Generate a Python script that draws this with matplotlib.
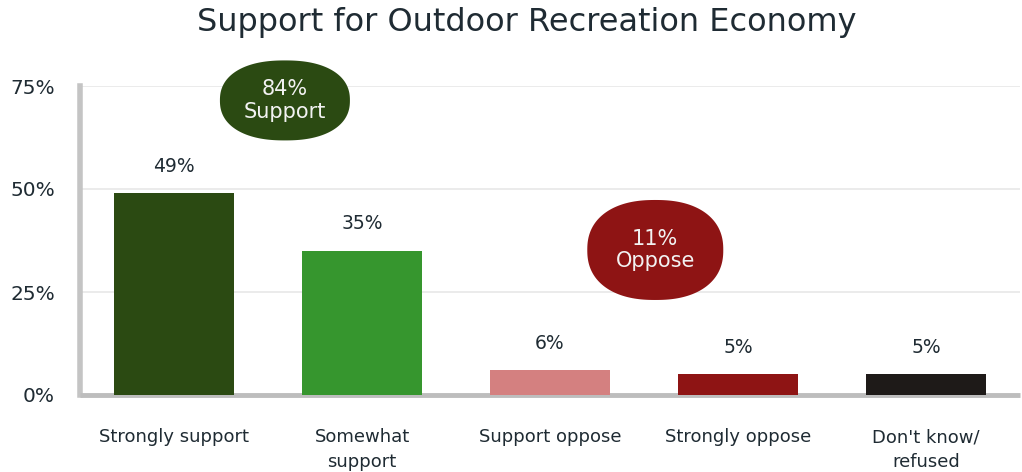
import numpy as np
import matplotlib
matplotlib.use("Agg")
import matplotlib.pyplot as plt
from matplotlib.patches import Polygon
from matplotlib.transforms import IdentityTransform

categories = ["Strongly support", "Somewhat\nsupport", "Support oppose",
              "Strongly oppose", "Don't know/\nrefused"]
values = [49, 35, 6, 5, 5]
colors = ["#2b4a12", "#36962e", "#d48080", "#8e1414", "#1e1a18"]
yticks = [0, 25, 50, 75]

# summary bubbles: label, centre (x in category units, y in %), colour
bubble_labels = ["84%\nSupport", "11%\nOppose"]
bubble_pos = [(0.59, 71.5), (2.56, 35.2)]
bubble_colors = ["#2b4a12", "#8e1414"]
bubble_size = [(130, 80), (136, 100)]  # pixels

text_col = "#1f2b33"
plt.rcParams["font.family"] = ["DejaVu Sans"]

fig = plt.figure(figsize=(10.22, 4.72), dpi=100)
ax = fig.add_axes([80 / 1022, 1 - 395 / 472, 940 / 1022, 309 / 472])

x = list(range(len(categories)))
ax.bar(x, values, width=0.64, color=colors, zorder=3)
for xi, v in zip(x, values):
    ax.text(xi, v + 4.2, f"{v}%", ha="center", va="bottom", fontsize=13.5,
            color=text_col)

ax.set_xlim(-0.5, len(categories) - 0.5)
ax.set_ylim(0, 75)
ax.set_yticks(yticks)
ax.set_yticklabels([f"{t}%" for t in yticks], fontsize=14.5, color=text_col)
ax.set_xticks(x)
ax.set_xticklabels(categories, fontsize=13, color=text_col, linespacing=1.5)
ax.tick_params(axis="both", length=0)
ax.tick_params(axis="y", pad=18)
ax.tick_params(axis="x", pad=24)

ax.grid(axis="y", color="#e8e8e8", linewidth=1.2, zorder=0)
ax.set_axisbelow(True)
for s in ["top", "right"]:
    ax.spines[s].set_visible(False)
ax.spines["left"].set_color("#c4c4c4")
ax.spines["left"].set_linewidth(4)
ax.spines["bottom"].set_color("#bdbdbd")
ax.spines["bottom"].set_linewidth(3.5)
ax.spines["bottom"].set_capstyle("butt")

fig.text(527 / 1022, 1 - 22 / 472, "Support for Outdoor Recreation Economy",
         ha="center", va="center", fontsize=23, color=text_col)

# superellipse-shaped bubbles drawn in pixel space
t = np.linspace(0, 2 * np.pi, 200)
n = 2.3
for lab, pos, col, (w, h) in zip(bubble_labels, bubble_pos, bubble_colors,
                                 bubble_size):
    px, py = ax.transData.transform(pos)
    xs = px + w / 2 * np.sign(np.cos(t)) * np.abs(np.cos(t)) ** (2 / n)
    ys = py + h / 2 * np.sign(np.sin(t)) * np.abs(np.sin(t)) ** (2 / n)
    patch = Polygon(np.column_stack([xs, ys]), closed=True,
                    transform=IdentityTransform(), fc=col, ec="none", zorder=5)
    fig.patches.append(patch)
    fig.text(px / 1022, py / 472, lab, ha="center", va="center", fontsize=15,
             color="#f2f2f2", zorder=6, linespacing=1.15)

fig.savefig("out.png", dpi=100)
